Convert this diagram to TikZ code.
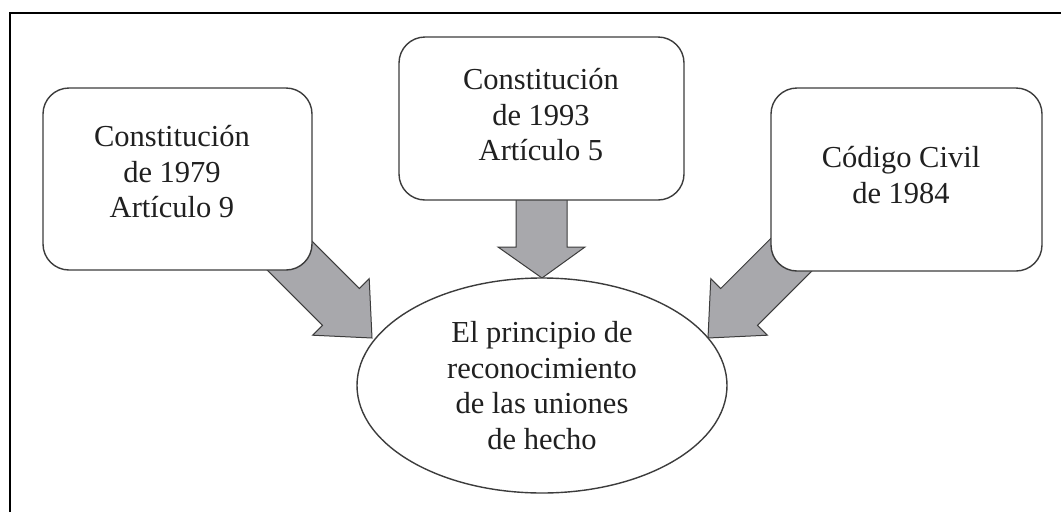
\documentclass[tikz,border=0pt]{standalone}
\usepackage{fontspec}
\setmainfont{Liberation Serif}
\usetikzlibrary{shapes.geometric}
\definecolor{arrowgray}{HTML}{A8A8AC}
\definecolor{edgegray}{HTML}{3C3C3C}
\definecolor{textdark}{HTML}{202020}
\tikzset{
  txt/.style={text=textdark, font=\fontsize{30.5}{35.5}\selectfont, align=center},
  srcbox/.style={draw=edgegray, line width=1.4pt, fill=white, rounded corners=26pt, inner sep=0pt},
  goal/.style={ellipse, draw=edgegray, line width=1.4pt, fill=white, txt, inner sep=0pt,
    minimum width=370pt, minimum height=215pt},
  fatarrow/.style={draw=edgegray, line width=1pt, fill=arrowgray, line join=miter},
  frame/.style={draw=black, line width=2pt}
}
\begin{document}
\begin{tikzpicture}[x=1pt,y=-1pt]
\useasboundingbox (0,0) rectangle (1061,512);
\draw[frame] (10,512) coordinate (fb) -- (10,13) coordinate (fc) -- (1061,13) coordinate (fr);
% arrows (drawn beneath the boxes)
\draw[fatarrow] (288.4,217.6) -- (359.3,288.5) -- (369.2,278.6) -- (372,338) -- (312.6,335.2) -- (322.5,325.3) -- (251.6,254.4) -- cycle;
\draw[fatarrow] (516,190) -- (516,247) -- (498,247) -- (542,278) -- (585,247) -- (567,247) -- (567,190) -- cycle;
\draw[fatarrow] (791.6,217.6) -- (720.7,288.5) -- (710.8,278.6) -- (708,338) -- (767.4,335.2) -- (757.5,325.3) -- (828.4,254.4) -- cycle;
% boxes
\node[srcbox, minimum width=269pt, minimum height=182pt] (b1) at (177.5,179) {};
\node[txt] (t1) at (172,172) {Constitución\\de 1979\\Artículo 9};
\node[srcbox, minimum width=285pt, minimum height=163pt] (b2) at (541.5,118.5) {};
\node[txt] (t2) at (541,115) {Constitución\\de 1993\\Artículo 5};
\node[srcbox, minimum width=271pt, minimum height=183pt] (b3) at (906.5,179.5) {};
\node[txt] (t3) at (901,175) {Código Civil\\de 1984};
\node[goal] (e) at (542,385.5) {El principio de\\reconocimiento\\de las uniones\\de hecho};
\end{tikzpicture}
\end{document}
